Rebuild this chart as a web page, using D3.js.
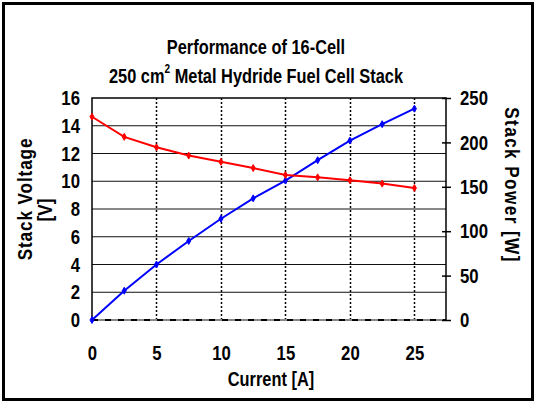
<!DOCTYPE html>
<html>
<head>
<meta charset="utf-8">
<script src="https://cdn.jsdelivr.net/npm/d3@7"></script>
<style>
  html, body { margin: 0; padding: 0; background: #fff; }
  svg { display: block; font-family: Arial, "Liberation Sans", sans-serif; font-weight: bold; }
</style>
</head>
<body>
<div id="chart"></div>
<script>
// current in A
const current = [0, 2.5, 5, 7.5, 10, 12.5, 15, 17.5, 20, 22.5, 25];
// stack voltage in V
const voltage = [14.65, 13.2, 12.45, 11.85, 11.4, 10.95, 10.45, 10.28, 10.07, 9.83, 9.51];
// stack power in W
const power = [0, 33, 62.5, 89, 114, 137, 157, 180, 202, 220.5, 238];

const xTicks = [0, 5, 10, 15, 20, 25];
const yLeftTicks = [0, 2, 4, 6, 8, 10, 12, 14, 16];
const yRightTicks = [0, 50, 100, 150, 200, 250];

const width = 537, height = 402;
const margin = { top: 98, right: 91, bottom: 82, left: 92 };
const plotW = width - margin.left - margin.right;
const plotH = height - margin.top - margin.bottom;
const squeeze = 0.86;  // text in the original is a horizontally squeezed Arial bold

const svg = d3.select('#chart').append('svg')
    .attr('width', width)
    .attr('height', height);

// outer frame
svg.append('rect')
    .attr('x', 3.5).attr('y', 3.5)
    .attr('width', 529).attr('height', 396)
    .attr('fill', 'none')
    .attr('stroke', '#000')
    .attr('stroke-width', 3);

const x = d3.scaleLinear().domain([0, 27.45]).range([0, plotW]);
const yL = d3.scaleLinear().domain([0, 16]).range([plotH, 0]);
const yR = d3.scaleLinear().domain([0, 250]).range([plotH, 0]);

const g = svg.append('g').attr('transform', `translate(${margin.left},${margin.top})`);

// horizontal grid
g.selectAll('.hgrid')
    .data(yLeftTicks.filter(d => d > 0 && d < 16))
    .enter().append('line')
    .attr('x1', 0).attr('x2', plotW)
    .attr('y1', d => yL(d)).attr('y2', d => yL(d))
    .attr('stroke', '#111')
    .attr('stroke-width', 1);

// vertical dotted grid
g.selectAll('.vgrid')
    .data(xTicks.filter(d => d > 0))
    .enter().append('line')
    .attr('x1', d => Math.round(x(d)) + 0.5).attr('x2', d => Math.round(x(d)) + 0.5)
    .attr('y1', 0).attr('y2', plotH)
    .attr('stroke', '#000')
    .attr('stroke-width', 1.5)
    .attr('stroke-dasharray', '2,2');

// plot frame: solid top/left/right, dashed bottom
g.append('path')
    .attr('d', `M0,${plotH} V0 H${plotW} V${plotH}`)
    .attr('fill', 'none')
    .attr('stroke', '#000')
    .attr('stroke-width', 1.5);
g.append('line')
    .attr('x1', 0).attr('x2', plotW)
    .attr('y1', plotH).attr('y2', plotH)
    .attr('stroke', '#888')
    .attr('stroke-width', 2);
g.append('line')
    .attr('x1', 0).attr('x2', plotW)
    .attr('y1', plotH).attr('y2', plotH)
    .attr('stroke', '#000')
    .attr('stroke-width', 2)
    .attr('stroke-dasharray', '6,7');

function styleTicks(axisG, dx, dyShift) {
    axisG.select('.domain').remove();
    axisG.selectAll('text')
        .attr('font-size', 19.5)
        .attr('font-family', 'Arial, "Liberation Sans", sans-serif')
        .attr('font-weight', 'bold')
        .attr('fill', '#000')
        .each(function() {
            const t = d3.select(this);
            const tx = +t.attr('x') || 0;
            const ty = +t.attr('y') || 0;
            t.attr('x', 0).attr('y', 0)
             .attr('transform', `translate(${tx + dx},${ty + dyShift}) scale(${squeeze},1)`);
        });
}

// left axis labels
const leftAxis = g.append('g')
    .call(d3.axisLeft(yL).tickValues(yLeftTicks).tickSize(0).tickPadding(12));
styleTicks(leftAxis, 0, 0.5);

// right axis
const rightAxis = g.append('g')
    .attr('transform', `translate(${plotW},0)`)
    .call(d3.axisRight(yR).tickValues(yRightTicks).tickSizeInner(5).tickSizeOuter(0).tickPadding(9));
rightAxis.selectAll('.tick line').attr('x1', -4).attr('stroke', '#000').attr('stroke-width', 1.5);
styleTicks(rightAxis, 0, 0.5);

// bottom axis labels
const bottomAxis = g.append('g')
    .attr('transform', `translate(0,${plotH})`)
    .call(d3.axisBottom(x).tickValues(xTicks).tickSize(0).tickPadding(26));
styleTicks(bottomAxis, 0, 0);

// series
const pts = current.map((c, i) => ({ c, v: voltage[i], p: power[i] }));
const lineV = d3.line().x(d => x(d.c)).y(d => yL(d.v));
const lineP = d3.line().x(d => x(d.c)).y(d => yR(d.p));

g.append('path').datum(pts).attr('d', lineP)
    .attr('fill', 'none').attr('stroke', '#0000ff').attr('stroke-width', 2);
g.append('path').datum(pts).attr('d', lineV)
    .attr('fill', 'none').attr('stroke', '#ff0000').attr('stroke-width', 2);

const marker = d3.symbol().type(d3.symbolDiamond).size(14);
g.selectAll('.mp').data(pts).enter().append('path')
    .attr('d', marker)
    .attr('transform', d => `translate(${x(d.c)},${yR(d.p)})`)
    .attr('fill', '#0000ff').attr('stroke', '#0000ff').attr('stroke-width', 1);
g.selectAll('.mv').data(pts).enter().append('path')
    .attr('d', marker)
    .attr('transform', d => `translate(${x(d.c)},${yL(d.v)})`)
    .attr('fill', '#ff0000').attr('stroke', '#ff0000').attr('stroke-width', 1);

// titles
function label(px, py, rot, sx) {
    return svg.append('text')
        .attr('transform', `translate(${px},${py}) rotate(${rot}) scale(${sx},1)`)
        .attr('text-anchor', 'middle')
        .attr('dominant-baseline', 'central')
        .attr('font-size', 19.5)
        .attr('fill', '#000');
}
label(256, 48, 0, 0.84).text('Performance of 16-Cell');
const t2 = label(256, 77, 0, 0.84);
t2.append('tspan').text('250 cm');
t2.append('tspan').attr('font-size', 12).attr('dy', -8).text('2');
t2.append('tspan').attr('dy', 8).text(' Metal Hydride Fuel Cell Stack');

label(271, 380, 0, 0.84).text('Current [A]');
label(25, 199, -90, 0.88).attr('letter-spacing', 1).text('Stack Voltage');
label(45, 210, -90, 0.88).text('[V]');
label(512, 185, 90, 0.88).attr('letter-spacing', 1.6).text('Stack Power [W]');
</script>
</body>
</html>
